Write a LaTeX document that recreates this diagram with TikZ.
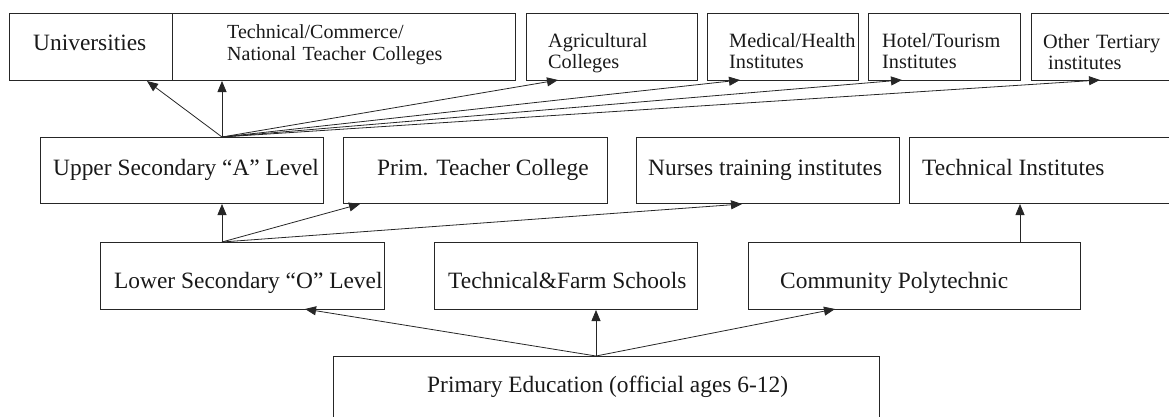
\documentclass[tikz,border=0pt]{standalone}
\usepackage{fontspec}
\setmainfont{Liberation Serif}
\usetikzlibrary{arrows.meta}
\tikzset{
  box/.style={draw=black!85, line width=1pt, inner sep=0pt, anchor=north west},
  lbl/.style={inner sep=0pt, anchor=base west, text=black!90, font=\fontsize{23.4}{26}\selectfont},
  slbl/.style={inner sep=0pt, anchor=base west, text=black!90, align=left, text width=160pt, font=\fontsize{20.3}{21}\selectfont},
  arr/.style={draw=black!85, line width=0.8pt, -{Triangle[length=11pt,width=9pt]}},
}
\begin{document}
\begin{tikzpicture}[x=1pt,y=-1pt]
\useasboundingbox (0,0) rectangle (1169,416);
\clip (0,0) rectangle (1169,416);
% top row
\node[box, minimum width=163pt, minimum height=67pt] (uni) at (9,13) {};
\node[box, minimum width=343pt, minimum height=67pt] (tc) at (172,13) {};
\node[box, minimum width=171pt, minimum height=67pt] (agri) at (526,13) {};
\node[box, minimum width=151pt, minimum height=67pt] (med) at (707,13) {};
\node[box, minimum width=152pt, minimum height=67pt] (hotel) at (868,13) {};
\node[box, minimum width=160pt, minimum height=67pt] (other) at (1031,13) {};
% second row
\node[box, minimum width=283pt, minimum height=66pt] (us) at (40,137) {};
\node[box, minimum width=264pt, minimum height=66pt] (ptc) at (343,137) {};
\node[box, minimum width=263pt, minimum height=66pt] (nurse) at (636,137) {};
\node[box, minimum width=280pt, minimum height=66pt] (ti) at (909,137) {};
% third row
\node[box, minimum width=284pt, minimum height=67pt] (ls) at (100,242) {};
\node[box, minimum width=263pt, minimum height=67pt] (tf) at (434,242) {};
\node[box, minimum width=332pt, minimum height=67pt] (cp) at (748,242) {};
% bottom
\node[box, minimum width=546pt, minimum height=80pt] (pe) at (333,356) {};

% labels
\node[lbl] (uniT) at (33,50) {Universities};
\node[slbl, font=\fontsize{20}{22}\selectfont, text width=260pt] (tcT) at (227,38) {Technical/Commerce/\\National Teacher Colleges};
\node[slbl] (agriT) at (548,47) {Agricultural\\Colleges};
\node[slbl] (medT) at (729,47) {Medical/Health\\Institutes};
\node[slbl] (hotelT) at (882,47) {Hotel/Tourism\\Institutes};
\node[slbl] (otherT) at (1043,48) {Other Tertiary\\\hspace*{5pt}institutes};
\node[lbl] (usT) at (53,175) {Upper Secondary “A” Level};
\node[lbl] (ptcT) at (377,175) {Prim. Teacher College};
\node[lbl] (nurseT) at (648,175) {Nurses training institutes};
\node[lbl] (tiT) at (922,175) {Technical Institutes};
\node[lbl] (lsT) at (114,288) {Lower Secondary “O” Level};
\node[lbl] (tfT) at (448,288) {Technical\&Farm Schools};
\node[lbl] (cpT) at (780,288) {Community Polytechnic};
\node[lbl] (peT) at (427,392) {Primary Education (official ages 6-12)};

% connector points
\coordinate (usO) at (222,137);
\coordinate (lsO) at (222,242);
\coordinate (cpO) at (1020,242);
\coordinate (peO) at (596,356);
\coordinate (uniI) at (147,81);
\coordinate (agriI) at (558,80);
\coordinate (medI) at (740,80);
\coordinate (hotelI) at (902,80);
\coordinate (otherI) at (1100,80);
\coordinate (ptcI) at (360,204);
\coordinate (nurseI) at (742,204);
\coordinate (lsI) at (305,309);
\coordinate (cpI) at (835,309);

% arrows
\draw[arr] (usO) -- (uniI);
\draw[arr] (usO) -- (tc.south -| usO);
\draw[arr] (usO) -- (agriI);
\draw[arr] (usO) -- (medI);
\draw[arr] (usO) -- (hotelI);
\draw[arr] (usO) -- (otherI);
\draw[arr] (lsO) -- (us.south -| lsO);
\draw[arr] (lsO) -- (ptcI);
\draw[arr] (lsO) -- (nurseI);
\draw[arr] (cpO) -- (ti.south -| cpO);
\draw[arr] (peO) -- (lsI);
\draw[arr] (peO) -- (tf.south -| peO);
\draw[arr] (peO) -- (cpI);
\end{tikzpicture}
\end{document}
